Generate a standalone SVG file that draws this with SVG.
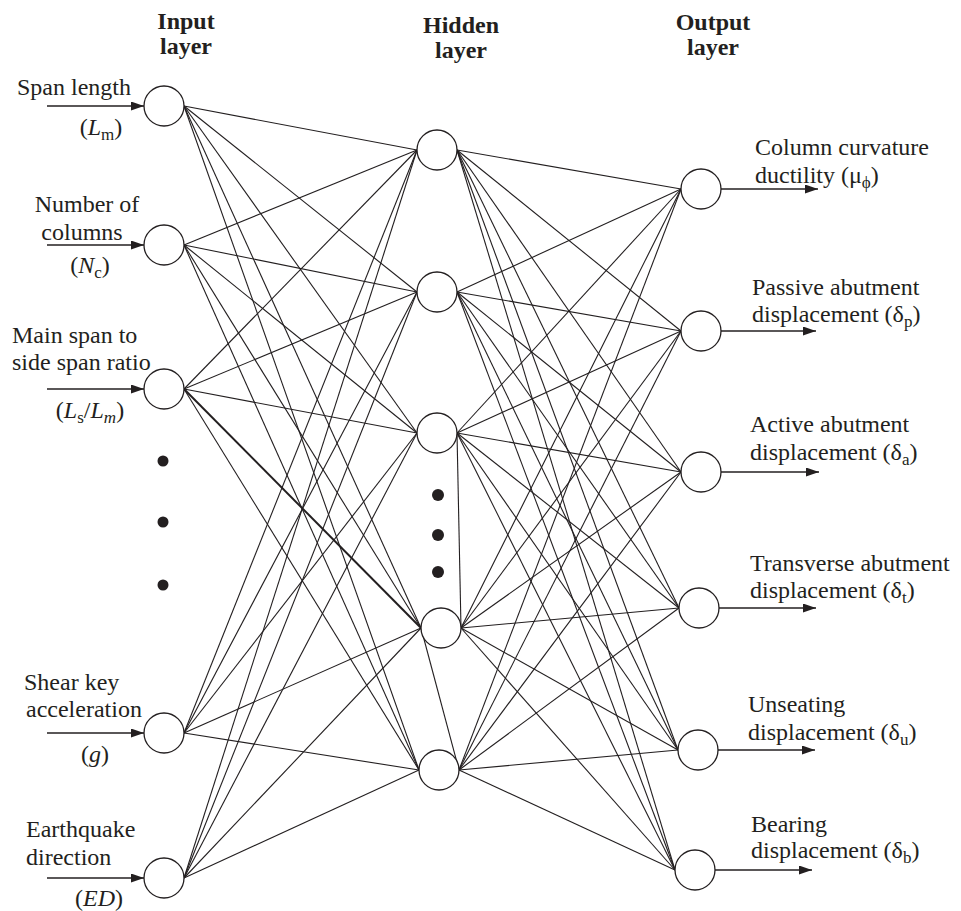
<svg xmlns="http://www.w3.org/2000/svg" width="961" height="911" viewBox="0 0 961 911" font-family="'Liberation Serif', 'Times New Roman', Times, serif">
<style>
text{font-family:'Liberation Serif','Times New Roman',Times,serif;font-size:24px;fill:#231f20}
.h{font-weight:bold;text-anchor:middle}
.m{text-anchor:middle}
.i{font-style:italic}
.node{fill:#fff;stroke:#231f20;stroke-width:1.3}
.c line{stroke:#231f20;stroke-width:1.1}
.arr{stroke:#231f20;stroke-width:1.3;marker-end:url(#ah)}
.dot{fill:#231f20}
</style>
<defs>
<marker id="ah" markerUnits="userSpaceOnUse" markerWidth="14" markerHeight="10" refX="13" refY="4.5" orient="auto">
<path d="M0,0 L13,4.5 L0,9 z" fill="#231f20"/>
</marker>
</defs>
<rect width="961" height="911" fill="#fff"/>
<g id="headers">
<text class="h" x="186" y="29">Input</text>
<text class="h" x="186" y="54">layer</text>
<text class="h" x="461" y="33">Hidden</text>
<text class="h" x="461" y="58">layer</text>
<text class="h" x="713" y="30">Output</text>
<text class="h" x="713" y="55">layer</text>
</g>
<g id="connectors" class="c">
<line x1="184" y1="106" x2="417" y2="150"/><line x1="184" y1="106" x2="417" y2="292"/><line x1="184" y1="106" x2="417" y2="433"/><line x1="184" y1="106" x2="421" y2="628"/><line x1="184" y1="106" x2="419" y2="770"/>
<line x1="184" y1="245" x2="417" y2="150"/><line x1="184" y1="245" x2="417" y2="292"/><line x1="184" y1="245" x2="417" y2="433"/><line x1="184" y1="245" x2="421" y2="628"/><line x1="184" y1="245" x2="419" y2="770"/>
<line x1="184" y1="389" x2="417" y2="150"/><line x1="184" y1="389" x2="417" y2="292"/><line x1="184" y1="389" x2="417" y2="433"/><line x1="184" y1="389" x2="421" y2="628" style="stroke-width:2"/><line x1="184" y1="389" x2="419" y2="770"/>
<line x1="184" y1="733" x2="417" y2="150"/><line x1="184" y1="733" x2="417" y2="292"/><line x1="184" y1="733" x2="417" y2="433"/><line x1="184" y1="733" x2="421" y2="628"/><line x1="184" y1="733" x2="419" y2="770"/>
<line x1="184" y1="878" x2="417" y2="150"/><line x1="184" y1="878" x2="417" y2="292"/><line x1="184" y1="878" x2="417" y2="433"/><line x1="184" y1="878" x2="421" y2="628"/><line x1="184" y1="878" x2="419" y2="770"/>
<line x1="457" y1="150" x2="681" y2="189"/><line x1="457" y1="150" x2="681" y2="331"/><line x1="457" y1="150" x2="681" y2="472"/><line x1="457" y1="150" x2="679" y2="608"/><line x1="457" y1="150" x2="678" y2="750"/><line x1="457" y1="150" x2="675" y2="870"/>
<line x1="457" y1="292" x2="681" y2="189"/><line x1="457" y1="292" x2="681" y2="331"/><line x1="457" y1="292" x2="681" y2="472"/><line x1="457" y1="292" x2="679" y2="608"/><line x1="457" y1="292" x2="678" y2="750"/><line x1="457" y1="292" x2="675" y2="870"/>
<line x1="457" y1="433" x2="681" y2="189"/><line x1="457" y1="433" x2="681" y2="331"/><line x1="457" y1="433" x2="681" y2="472"/><line x1="457" y1="433" x2="679" y2="608"/><line x1="457" y1="433" x2="678" y2="750"/><line x1="457" y1="433" x2="675" y2="870"/>
<line x1="461" y1="628" x2="681" y2="189"/><line x1="461" y1="628" x2="681" y2="331"/><line x1="461" y1="628" x2="681" y2="472"/><line x1="461" y1="628" x2="679" y2="608"/><line x1="461" y1="628" x2="678" y2="750"/><line x1="461" y1="628" x2="675" y2="870"/>
<line x1="459" y1="770" x2="681" y2="189"/><line x1="459" y1="770" x2="681" y2="331"/><line x1="459" y1="770" x2="681" y2="472"/><line x1="459" y1="770" x2="679" y2="608"/><line x1="459" y1="770" x2="678" y2="750"/><line x1="459" y1="770" x2="675" y2="870"/>
<line x1="457" y1="433" x2="461" y2="628"/>
<line x1="421" y1="628" x2="459" y2="770"/>
</g>
<g id="arrows">
<line class="arr" x1="47" y1="106" x2="144" y2="106"/>
<line class="arr" x1="47" y1="245" x2="144" y2="245"/>
<line class="arr" x1="47" y1="389" x2="144" y2="389"/>
<line class="arr" x1="47" y1="733" x2="144" y2="733"/>
<line class="arr" x1="47" y1="878" x2="144" y2="878"/>
<line class="arr" x1="721" y1="189" x2="818" y2="189"/>
<line class="arr" x1="721" y1="331" x2="816" y2="331"/>
<line class="arr" x1="721" y1="472" x2="819" y2="472"/>
<line class="arr" x1="719" y1="608" x2="816" y2="608"/>
<line class="arr" x1="718" y1="750" x2="815" y2="750"/>
<line class="arr" x1="715" y1="870" x2="812" y2="870"/>
</g>
<g id="in1"><circle class="node" cx="164" cy="106" r="20"/>
<text x="17" y="95">Span length</text>
<text class="m" x="101" y="135">(<tspan class="i">L</tspan><tspan font-size="17" dy="5">m</tspan><tspan dy="-5">)</tspan></text></g>
<g id="in2"><circle class="node" cx="164" cy="245" r="20"/>
<text class="m" x="87" y="212">Number of</text>
<text class="m" x="82" y="240">columns</text>
<text class="m" x="90" y="273">(<tspan class="i">N</tspan><tspan font-size="17" dy="5">c</tspan><tspan dy="-5">)</tspan></text></g>
<g id="in3"><circle class="node" cx="164" cy="389" r="20"/>
<text x="12" y="343">Main span to</text>
<text x="12" y="370">side span ratio</text>
<text class="m" x="90" y="418">(<tspan class="i">L</tspan><tspan font-size="17" dy="5">s</tspan><tspan dy="-5">/</tspan><tspan class="i">L</tspan><tspan class="i" font-size="17" dy="5">m</tspan><tspan dy="-5">)</tspan></text></g>
<g id="in-dots"><circle class="dot" cx="163" cy="461" r="5.5"/><circle class="dot" cx="163" cy="522" r="5.5"/><circle class="dot" cx="163" cy="585" r="5.5"/></g>
<g id="in4"><circle class="node" cx="164" cy="733" r="20"/>
<text x="24" y="690">Shear key</text>
<text x="26" y="717">acceleration</text>
<text class="m" x="95" y="762">(<tspan class="i">g</tspan>)</text></g>
<g id="in5"><circle class="node" cx="164" cy="878" r="20"/>
<text x="26" y="837">Earthquake</text>
<text x="26" y="865">direction</text>
<text class="m" x="99" y="906">(<tspan class="i">ED</tspan>)</text></g>
<g id="h1"><circle class="node" cx="437" cy="150" r="20"/></g>
<g id="h2"><circle class="node" cx="437" cy="292" r="20"/></g>
<g id="h3"><circle class="node" cx="437" cy="433" r="20"/></g>
<g id="h-dots"><circle class="dot" cx="438" cy="495" r="6"/><circle class="dot" cx="438" cy="535" r="6"/><circle class="dot" cx="438" cy="572" r="6"/></g>
<g id="h4"><circle class="node" cx="441" cy="628" r="20"/></g>
<g id="h5"><circle class="node" cx="439" cy="770" r="20"/></g>
<g id="o1"><circle class="node" cx="701" cy="189" r="20"/>
<text x="755" y="155">Column curvature</text>
<text x="755" y="183">ductility (μ<tspan font-size="17" dy="5">ϕ</tspan><tspan dy="-5">)</tspan></text></g>
<g id="o2"><circle class="node" cx="701" cy="331" r="20"/>
<text x="752" y="295">Passive abutment</text>
<text x="752" y="322">displacement (δ<tspan font-size="17" dy="5">p</tspan><tspan dy="-5">)</tspan></text></g>
<g id="o3"><circle class="node" cx="701" cy="472" r="20"/>
<text x="750" y="432">Active abutment</text>
<text x="750" y="460">displacement (δ<tspan font-size="17" dy="5">a</tspan><tspan dy="-5">)</tspan></text></g>
<g id="o4"><circle class="node" cx="699" cy="608" r="20"/>
<text x="750" y="571">Transverse abutment</text>
<text x="750" y="598">displacement (δ<tspan font-size="17" dy="5">t</tspan><tspan dy="-5">)</tspan></text></g>
<g id="o5"><circle class="node" cx="698" cy="750" r="20"/>
<text x="748" y="712">Unseating</text>
<text x="748" y="740">displacement (δ<tspan font-size="17" dy="5">u</tspan><tspan dy="-5">)</tspan></text></g>
<g id="o6"><circle class="node" cx="695" cy="870" r="20"/>
<text x="751" y="832">Bearing</text>
<text x="751" y="858">displacement (δ<tspan font-size="17" dy="5">b</tspan><tspan dy="-5">)</tspan></text></g>
</svg>
